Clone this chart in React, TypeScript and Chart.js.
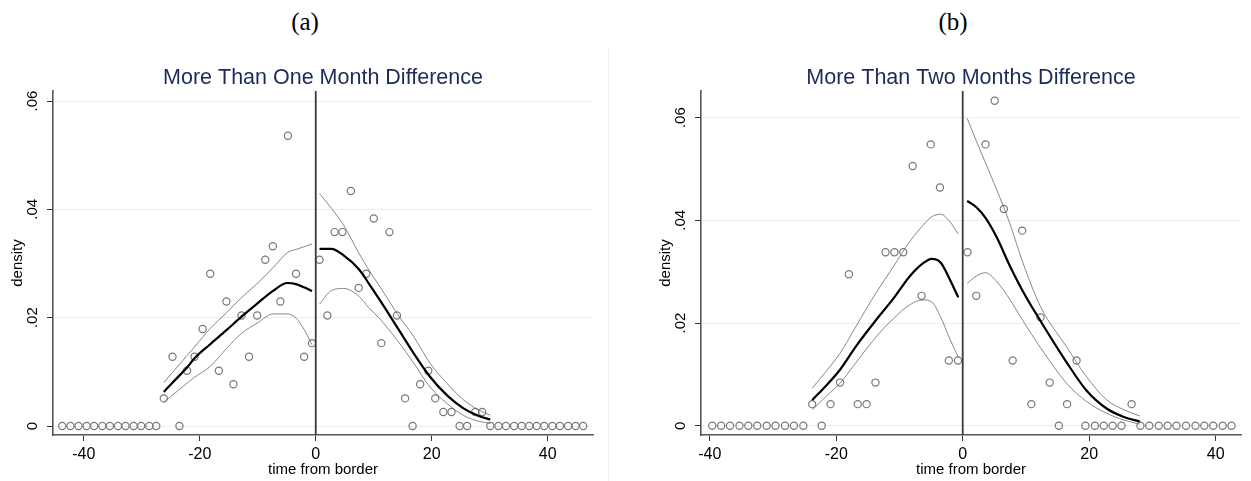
import React, { useEffect, useRef } from "react";
import { Chart, registerables } from "chart.js";

Chart.register(...registerables);

// ---------- shared axis ticks ----------
const xTickValues = [-40, -20, 0, 20, 40];
const yTickValues = [0, 0.02, 0.04, 0.06];

// ---------- panel (a): more than one month ----------
const aBinX = [
  -43.7, -42.3, -40.9, -39.5, -38.2, -36.8, -35.5, -34.1, -32.8, -31.4, -30.1, -28.7, -27.5,
  -26.2, -24.7, -23.5, -22.2, -20.9, -19.5, -18.2, -16.7, -15.4, -14.2, -12.8, -11.5, -10.1,
  -8.7, -7.4, -6.1, -4.8, -3.4, -2.0, -0.65,
  0.65, 2.0, 3.25, 4.6, 6.05, 7.4, 8.7, 10.0, 11.3, 12.7, 14.0, 15.4, 16.7, 18.0, 19.4, 20.6,
  22.0, 23.4, 24.8, 26.1, 27.5, 28.7,
  30.1, 31.5, 32.8, 34.2, 35.5, 36.8, 38.1, 39.4, 40.8, 42.1, 43.5, 44.8, 46.1,
];
const aBinY = [
  0, 0, 0, 0, 0, 0, 0, 0, 0, 0, 0, 0, 0,
  0.0051, 0.0128, 0, 0.0102, 0.0128, 0.0179, 0.0281, 0.0102, 0.023, 0.0077, 0.0204, 0.0128, 0.0204,
  0.0307, 0.0332, 0.023, 0.0536, 0.0281, 0.0128, 0.0153,
  0.0307, 0.0204, 0.0358, 0.0358, 0.0434, 0.0255, 0.0281, 0.0383, 0.0153, 0.0358, 0.0204, 0.0051, 0, 0.0077, 0.0102, 0.0051,
  0.0026, 0.0026, 0, 0, 0.0026, 0.0026,
  0, 0, 0, 0, 0, 0, 0, 0, 0, 0, 0, 0, 0,
];
const aLeftX = [-26.2, -24.7, -22.2, -20.9, -18.2, -15.4, -12.8, -10.1, -7.3, -4.9, -3.4, -2.0, -0.65];
const aLeftFit = [0.0063, 0.008, 0.0108, 0.0125, 0.0151, 0.0177, 0.0202, 0.0226, 0.025, 0.0264, 0.0262, 0.0256, 0.0249];
const aLeftHi = [0.008, 0.0099, 0.013, 0.0146, 0.018, 0.0209, 0.0237, 0.0263, 0.0293, 0.032, 0.0326, 0.0331, 0.0336];
const aLeftLo = [0.0044, 0.0057, 0.0079, 0.009, 0.011, 0.0143, 0.0171, 0.019, 0.0207, 0.0207, 0.0199, 0.0178, 0.015];
const aRightX = [0.65, 2.7, 4.8, 7.4, 9.1, 11.2, 14.0, 16.9, 19.7, 22.6, 25.4, 28.0, 30.1];
const aRightFit = [0.0327, 0.0327, 0.0315, 0.029, 0.0264, 0.023, 0.0183, 0.0134, 0.0091, 0.0057, 0.0033, 0.0019, 0.0012];
const aRightHi = [0.0429, 0.0402, 0.0371, 0.032, 0.0289, 0.0255, 0.0208, 0.0165, 0.0116, 0.0079, 0.0049, 0.003, 0.002];
const aRightLo = [0.0225, 0.025, 0.0254, 0.024, 0.0219, 0.0196, 0.0159, 0.0116, 0.0072, 0.0042, 0.002, 0.0009, 0.0005];

// ---------- panel (b): more than two months ----------
const bBinX = [
  -39.6, -38.2, -36.8, -35.3, -33.9, -32.5, -31.0, -29.6, -28.1, -26.7, -25.2,
  -23.8, -22.3, -20.9, -19.4, -18.0, -16.6, -15.2, -13.8, -12.2, -10.8, -9.4, -7.9, -6.5, -5.05, -3.6, -2.2, -0.75,
  0.75, 2.15, 3.6, 5.05, 6.5, 7.9, 9.4, 10.85, 12.3, 13.75, 15.2, 16.5, 18.0, 19.4, 20.9, 22.3, 23.7, 25.1, 26.7,
  28.1, 29.5, 31.0, 32.4, 33.8, 35.3, 36.8, 38.2, 39.6, 41.1, 42.5,
];
const bBinY = [
  0, 0, 0, 0, 0, 0, 0, 0, 0, 0, 0,
  0.0042, 0, 0.0042, 0.0084, 0.0295, 0.0042, 0.0042, 0.0084, 0.0338, 0.0338, 0.0338, 0.0506, 0.0253, 0.0548, 0.0464, 0.0127, 0.0127,
  0.0338, 0.0253, 0.0548, 0.0633, 0.0422, 0.0127, 0.038, 0.0042, 0.0211, 0.0084, 0, 0.0042, 0.0127, 0, 0, 0, 0, 0, 0.0042,
  0, 0, 0, 0, 0, 0, 0, 0, 0, 0, 0,
];
const bLeftX = [-23.8, -21.6, -19.4, -16.8, -13.7, -11.0, -8.3, -6.3, -4.9, -3.5, -2.0, -0.7];
const bLeftFit = [0.005, 0.0078, 0.0109, 0.0156, 0.0206, 0.0247, 0.0292, 0.0316, 0.0325, 0.0318, 0.0284, 0.025];
const bLeftHi = [0.0073, 0.0106, 0.0141, 0.0195, 0.0259, 0.0309, 0.036, 0.039, 0.0407, 0.0412, 0.0397, 0.0373];
const bLeftLo = [0.0031, 0.0057, 0.0083, 0.0124, 0.0173, 0.0208, 0.0236, 0.0245, 0.0241, 0.0212, 0.0168, 0.0134];
const bRightX = [0.7, 2.2, 3.6, 5.3, 7.5, 9.5, 12.3, 16.4, 19.6, 22.8, 25.5, 28.0];
const bRightFit = [0.0438, 0.0425, 0.0405, 0.0369, 0.031, 0.0262, 0.0204, 0.0124, 0.0068, 0.0033, 0.0017, 0.0008];
const bRightHi = [0.0599, 0.0553, 0.0512, 0.0462, 0.0392, 0.0318, 0.0232, 0.0154, 0.0095, 0.005, 0.0031, 0.0019];
const bRightLo = [0.0277, 0.0292, 0.0298, 0.0282, 0.0245, 0.0205, 0.0152, 0.0083, 0.0047, 0.0024, 0.0011, 0.0003];

const FONT = "'Liberation Sans', Arial, Helvetica, sans-serif";

const zip = (xs: number[], ys: number[]) => xs.map((x, i) => ({ x, y: ys[i] }));

type PanelProps = {
  title: string;
  binX: number[];
  binY: number[];
  leftX: number[];
  leftFit: number[];
  leftHi: number[];
  leftLo: number[];
  rightX: number[];
  rightFit: number[];
  rightHi: number[];
  rightLo: number[];
  xMin: number;
  xMax: number;
  yMin: number;
  yMax: number;
  left: number;
  width: number;
  padRight: number;
};

function Panel(p: PanelProps) {
  const ref = useRef<HTMLCanvasElement>(null);
  useEffect(() => {
    if (!ref.current) return;
    const ci = (xs: number[], ys: number[]) => ({
      data: zip(xs, ys),
      showLine: true,
      borderColor: "#6a6a6a",
      borderWidth: 0.8,
      pointRadius: 0,
      cubicInterpolationMode: "monotone",
    });
    const fit = (xs: number[], ys: number[]) => ({
      data: zip(xs, ys),
      showLine: true,
      borderColor: "#000000",
      borderWidth: 2.2,
      pointRadius: 0,
      cubicInterpolationMode: "monotone",
    });
    const chart = new Chart(ref.current, {
      type: "scatter",
      data: {
        datasets: [
          {
            data: [
              { x: 0, y: p.yMin },
              { x: 0, y: p.yMax },
            ],
            showLine: true,
            borderColor: "#3a3a3a",
            borderWidth: 1.8,
            pointRadius: 0,
          },
          ci(p.leftX, p.leftHi),
          ci(p.leftX, p.leftLo),
          ci(p.rightX, p.rightHi),
          ci(p.rightX, p.rightLo),
          fit(p.leftX, p.leftFit),
          fit(p.rightX, p.rightFit),
          {
            data: zip(p.binX, p.binY),
            showLine: false,
            pointRadius: 3.6,
            pointBorderWidth: 1.2,
            pointBorderColor: "#787878",
            pointBackgroundColor: "rgba(0,0,0,0)",
          },
        ] as any,
      },
      options: {
        animation: false,
        responsive: false,
        events: [],
        layout: { padding: { left: 0, right: p.padRight, top: 0, bottom: 0 } },
        plugins: {
          legend: { display: false },
          tooltip: { enabled: false },
          title: {
            display: true,
            text: p.title,
            fullSize: false,
            color: "#1c2b5a",
            font: { family: FONT, size: 21.5, weight: "normal" as any, lineHeight: 1.2 },
            padding: { top: 20, bottom: 0.2 },
          },
        },
        scales: {
          x: {
            type: "linear",
            min: p.xMin,
            max: p.xMax,
            afterBuildTicks: (s: any) => {
              s.ticks = xTickValues.map((v) => ({ value: v }));
            },
            afterFit: (s: any) => {
              s.height = 46;
            },
            ticks: {
              color: "#000",
              font: { family: FONT, size: 16 },
              padding: 4.4,
              maxRotation: 0,
              minRotation: 0,
              callback: (v: any) => String(v),
            },
            grid: {
              display: true,
              drawOnChartArea: false,
              drawTicks: true,
              tickLength: 6,
              tickColor: "#333",
              tickWidth: 1,
            },
            border: { display: true, color: "#555", width: 1.6 },
            title: {
              display: true,
              text: "time from border",
              color: "#000",
              font: { family: FONT, size: 15 },
              padding: { top: 0, bottom: 2 },
            },
          },
          y: {
            type: "linear",
            min: p.yMin,
            max: p.yMax,
            afterBuildTicks: (s: any) => {
              s.ticks = yTickValues.map((v) => ({ value: v }));
            },
            afterFit: (s: any) => {
              s.width = 53;
            },
            ticks: {
              color: "#000",
              font: { family: FONT, size: 15 },
              padding: 3.3,
              minRotation: 90,
              maxRotation: 90,
              crossAlign: "center",
              callback: (v: any) => (v === 0 ? "0" : Number(v).toFixed(2).replace(/^0/, "")),
            },
            grid: {
              display: true,
              drawOnChartArea: true,
              color: "#e7eff1",
              lineWidth: 1,
              drawTicks: true,
              tickLength: 6,
              tickColor: "#333",
              tickWidth: 1,
            },
            border: { display: true, color: "#555", width: 1.6 },
            title: {
              display: true,
              text: "density",
              color: "#000",
              font: { family: FONT, size: 15 },
              padding: { top: 9, bottom: 0 },
            },
          },
        },
      },
    });
    return () => chart.destroy();
  }, []);
  return (
    <canvas
      ref={ref}
      width={p.width}
      height={436}
      style={{ position: "absolute", left: p.left, top: 45, width: p.width, height: 436 }}
    />
  );
}

export default function App() {
  const headStyle = {
    position: "absolute" as const,
    width: 100,
    top: 6,
    textAlign: "center" as const,
    fontFamily: "'Liberation Serif', 'DejaVu Serif', serif",
    fontSize: 25,
    lineHeight: "32px",
    color: "#000",
  };
  return (
    <div
      style={{
        position: "fixed",
        left: 0,
        top: 0,
        width: 1251,
        height: 481,
        background: "#ffffff",
        overflow: "hidden",
      }}
    >
      <div style={{ ...headStyle, left: 255 }}>(a)</div>
      <div style={{ ...headStyle, left: 903 }}>(b)</div>
      <div
        style={{
          position: "absolute",
          left: 608,
          top: 48,
          width: 1,
          height: 433,
          background: "#eef3f3",
        }}
      />
      <Panel
        title="More Than One Month Difference"
        binX={aBinX}
        binY={aBinY}
        leftX={aLeftX}
        leftFit={aLeftFit}
        leftHi={aLeftHi}
        leftLo={aLeftLo}
        rightX={aRightX}
        rightFit={aRightFit}
        rightHi={aRightHi}
        rightLo={aRightLo}
        xMin={-45.3}
        xMax={47.8}
        yMin={-0.00166}
        yMax={0.06185}
        left={0}
        width={609}
        padRight={16}
      />
      <Panel
        title="More Than Two Months Difference"
        binX={bBinX}
        binY={bBinY}
        leftX={bLeftX}
        leftFit={bLeftFit}
        leftHi={bLeftHi}
        leftLo={bLeftLo}
        rightX={bRightX}
        rightFit={bRightFit}
        rightHi={bRightHi}
        rightLo={bRightLo}
        xMin={-41.38}
        xMax={44.0}
        yMin={-0.00181}
        yMax={0.0652}
        left={648}
        width={603}
        padRight={10}
      />
    </div>
  );
}
